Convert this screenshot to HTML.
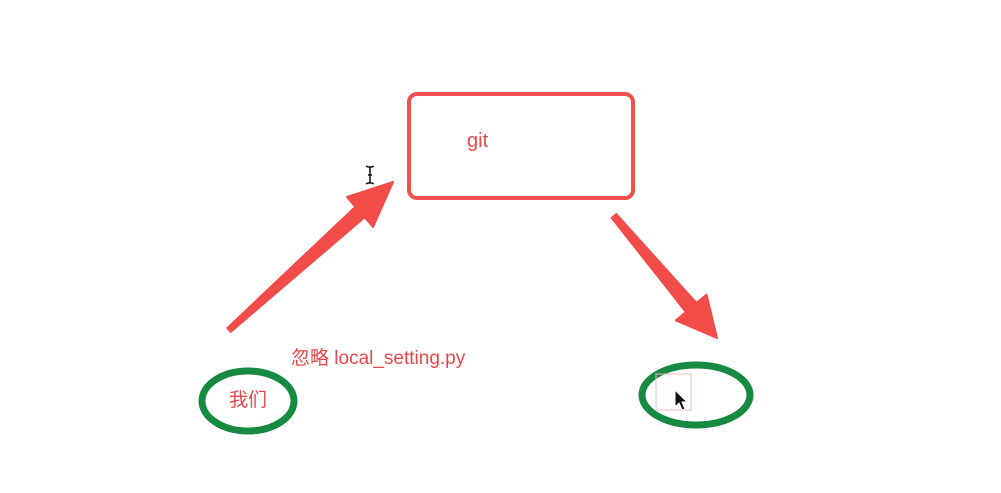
<!DOCTYPE html>
<html><head><meta charset="utf-8"><style>
html,body{margin:0;padding:0;background:#fff;width:1001px;height:493px;overflow:hidden}
svg{display:block}
text{font-family:"Liberation Sans","Noto Sans CJK SC",sans-serif;fill:#e5484a}
</style></head><body>
<svg width="1001" height="493" viewBox="0 0 1001 493">
<rect x="409" y="94" width="224" height="104" rx="8" fill="none" stroke="#f0504c" stroke-width="4"/>
<text x="467" y="147" font-size="20">git</text>
<path d="M227.3,328.1 L355.3,206.8 L347,197 L393,182 L373,227 L364.7,217.2 L230.7,331.9 Z" fill="#f24c48" stroke="#f24c48" stroke-width="2" stroke-linejoin="round"/>
<path d="M611.7,217.9 L685.9,312 L675.9,320.4 L717,338 L706.5,294.6 L696.5,303 L616.3,214.1 Z" fill="#f24c48" stroke="#f24c48" stroke-width="2" stroke-linejoin="round"/>
<text x="291" y="364" font-size="19">忽略 local_setting.py</text>
<ellipse cx="248" cy="401" rx="46" ry="30" fill="none" stroke="#158a40" stroke-width="7"/>
<text x="229" y="406" font-size="19">我们</text>
<ellipse cx="696" cy="395" rx="54" ry="30" fill="none" stroke="#158a40" stroke-width="7"/>
<rect x="656" y="374" width="35" height="36" fill="none" stroke="#f2b8bc" stroke-width="1"/>
<path d="M675,390 L675,407 L679,403 L682,410 L685,409 L682,402 L687,402 Z" fill="#111" stroke="#fff" stroke-width="1"/>
<path d="M366,166 L368,167 L372,167 L374,166 M370,167 L370,183 M366,184 L368,183 L372,183 L374,184 M368,175 L372,175" stroke="#111" stroke-width="1.5" fill="none"/>
</svg>
</body></html>
